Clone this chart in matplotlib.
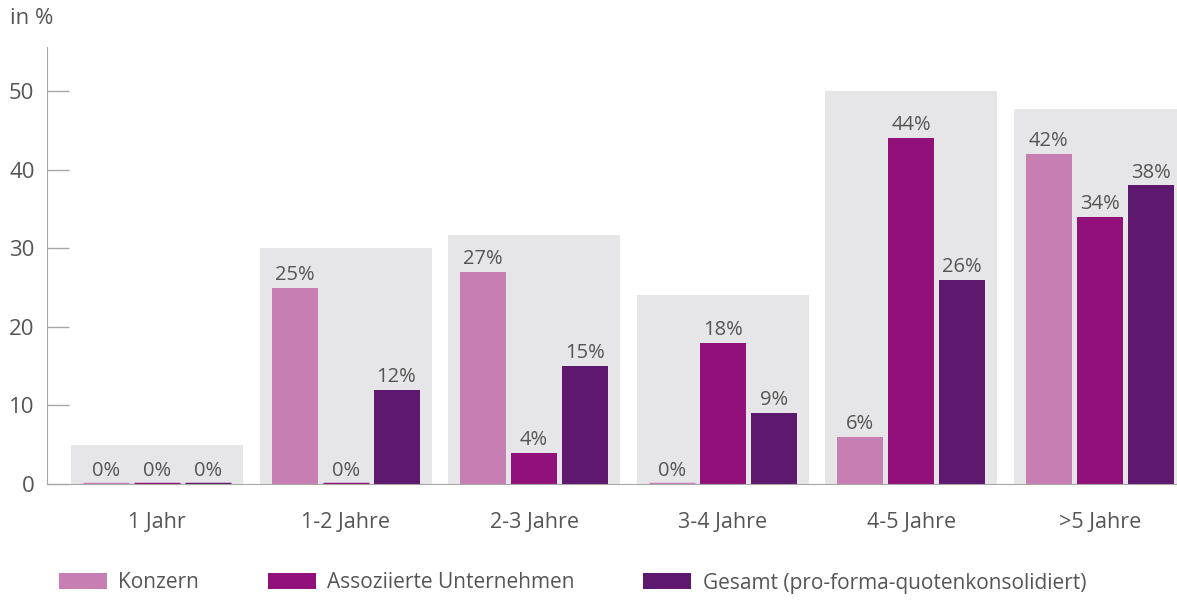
import numpy as np
import matplotlib.pyplot as plt
from matplotlib.patches import Patch

# data
categories = ["1 Jahr", "1-2 Jahre", "2-3 Jahre", "3-4 Jahre", "4-5 Jahre", ">5 Jahre"]
konzern = [0, 25, 27, 0, 6, 42]
assoziierte = [0, 0, 4, 18, 44, 34]
gesamt = [0, 12, 15, 9, 26, 38]
backdrop = [5, 30, 31.7, 24, 50, 47.7]
series_names = ["Konzern", "Assoziierte Unternehmen", "Gesamt (pro-forma-quotenkonsolidiert)"]

colors = ["#c77fb3", "#921079", "#5e186e"]
text_color = "#555555"
line_color = "#a8a8a8"

plt.rcParams["font.family"] = ["Open Sans", "DejaVu Sans"]

fig = plt.figure(figsize=(11.77, 6.0), dpi=100)
ax = fig.add_axes([47 / 1177, 116 / 600, 1 - 47 / 1177, (484 - 47) / 600])

x = np.arange(len(categories))
width = 0.244
step = 0.27

# grey boxes behind each group
ax.bar(x, backdrop, width=0.913, color="#e6e6e8", zorder=1)

for i, vals in enumerate([konzern, assoziierte, gesamt]):
    pos = x + (i - 1) * step
    lw = [2.5 if v == 0 else 0 for v in vals]
    ax.bar(pos, vals, width=width, color=colors[i], edgecolor=colors[i],
           linewidth=lw, zorder=2)
    for p, v in zip(pos, vals):
        ax.annotate(f"{v}%", (p, v), xytext=(0, 2), textcoords="offset points",
                    ha="center", va="bottom", fontsize=14.5, color=text_color, zorder=3)

ax.set_xlim(-0.584, 5.41)
ax.set_ylim(0, 55.6)

ax.set_yticks([0, 10, 20, 30, 40, 50])
ax.set_xticks(x)
ax.set_xticklabels(categories)
ax.tick_params(axis="x", length=0, pad=20, labelsize=15.5, labelcolor=text_color)
ax.tick_params(axis="y", direction="in", length=16, width=1, color=line_color,
               pad=9, labelsize=16, labelcolor=text_color)

for side in ["top", "right"]:
    ax.spines[side].set_visible(False)
ax.spines["left"].set_color(line_color)
ax.spines["bottom"].set_color(line_color)
ax.spines["left"].set_zorder(4)
ax.spines["bottom"].set_zorder(4)

fig.text(10 / 1177, 1 - 18 / 600, "in %", fontsize=16, color=text_color, va="center")

handles = [Patch(facecolor=c, edgecolor="none") for c in colors]
fig.legend(handles, series_names, loc="center left", bbox_to_anchor=(40 / 1177, 1 - 583 / 600),
           ncol=3, frameon=False, fontsize=15, labelcolor=text_color,
           handlelength=2.3, handleheight=0.8, handletextpad=0.55, columnspacing=3.3)

fig.savefig("out.png", dpi=100)
